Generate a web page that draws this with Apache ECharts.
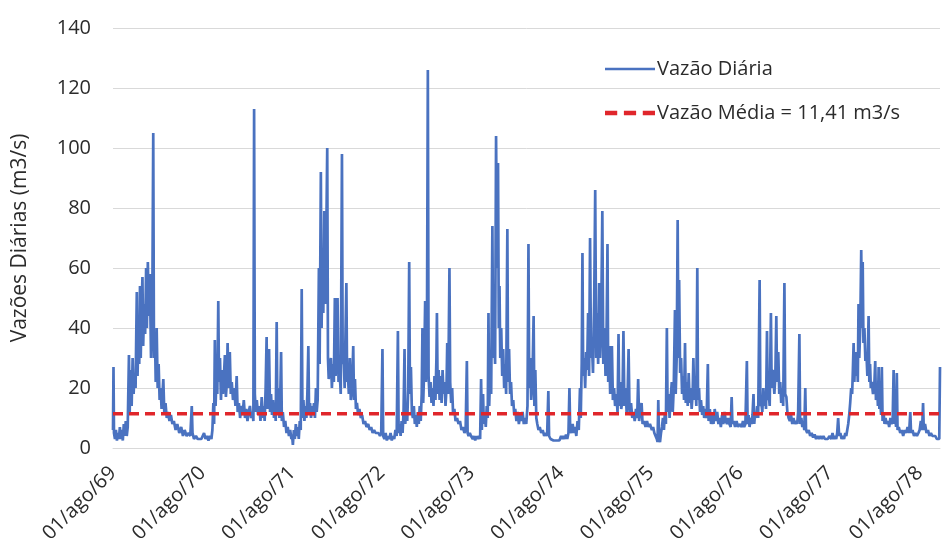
<!DOCTYPE html>
<html>
<head>
<meta charset="utf-8">
<title>Vazões Diárias</title>
<script src="https://cdn.jsdelivr.net/npm/echarts@6/dist/echarts.min.js"></script>
<style>
  html, body { margin: 0; padding: 0; background: #fff; }
  #chart { width: 942px; height: 549px; }
</style>
</head>
<body>
<div id="chart"></div>
<script>
// Vazões diárias por ano hidrológico: pares [dia contado a partir de 01/ago, vazão em m3/s]
const ano1969 = [[0,6],[2,27],[4,5],[8,3],[12,6],[16,2.5],[20,5],[24,3],[28,7],[32,3],[36,6],[40,2.5],[44,8],[48,4],[52,9],[56,4],[60,7],[65,31],[68,12],[72,26],[76,14],[80,30],[84,18],[88,25],[92,20],[97,52],[100,24],[104,40],[107,28],[110,54],[113,30],[116,45],[120,57],[123,34],[127,48],[131,38],[135,60],[138,40],[142,62],[146,44],[150,58],[155,30],[160,45],[164,105],[167,30],[171,38],[174,22],[178,40],[182,20],[186,28],[190,16],[194,20],[198,13],[201,17],[205,23],[209,12],[214,15],[219,10],[224,12],[230,9],[236,11],[242,8],[248,9],[255,6],[262,8],[270,5],[278,7],[285,4],[292,6],[300,4],[308,5],[315,4],[321,14],[324,5],[330,3],[338,4],[345,3],[352,3.5],[360,3]];
const ano1970 = [[0,3],[6,5],[12,3],[18,4],[24,2.5],[30,4],[36,3],[40,6],[44,15],[47,8],[50,36],[53,14],[57,25],[60,18],[64,49],[67,22],[71,30],[75,16],[79,26],[83,18],[87,24],[91,31],[95,17],[99,22],[102,35],[106,20],[111,32],[115,18],[119,22],[124,16],[129,20],[134,14],[139,24],[143,12],[148,15],[153,10],[158,14],[163,11],[168,16],[173,10],[178,13],[183,9],[188,12],[193,14],[198,10],[203,12],[207,9],[210,113],[213,18],[217,12],[221,16],[226,11],[231,14],[236,9],[241,17],[245,10],[249,14],[253,9],[257,20],[261,37],[264,13],[268,22],[271,33],[275,12],[279,18],[283,11],[287,16],[291,10],[295,15],[298,9],[302,42],[305,12],[309,20],[313,10],[316,15],[320,32],[323,9],[327,12],[332,7],[337,9],[342,5],[347,7],[352,4],[357,6],[362,3]];
const ano1971 = [[0,4],[3,1],[7,6],[11,3],[15,8],[19,4],[23,7],[27,3],[31,9],[35,6],[39,53],[42,10],[46,16],[50,9],[54,14],[58,10],[62,18],[66,34],[69,12],[73,15],[77,10],[81,14],[85,11],[89,15],[93,10],[97,20],[100,12],[104,16],[109,60],[112,28],[117,92],[120,40],[124,66],[127,45],[131,79],[135,48],[139,70],[143,100],[146,30],[149,23],[153,26],[158,30],[162,20],[166,28],[170,22],[174,50],[177,24],[181,30],[185,50],[189,22],[194,25],[198,18],[203,98],[206,28],[210,30],[214,20],[217,36],[221,55],[224,22],[227,25],[231,18],[235,30],[239,16],[244,20],[249,34],[252,16],[256,23],[260,13],[264,15],[269,11],[274,13],[280,10],[285,11],[291,8],[297,9],[303,7],[310,8],[316,6],[322,7],[328,5],[334,6],[340,5],[346,4.5],[352,5],[358,4],[363,5]];
const ano1972 = [[0,5],[2,33],[5,4],[10,3],[15,5],[20,2.5],[25,4],[30,3],[35,5],[40,2.5],[45,4],[50,3],[55,6],[60,4],[65,39],[68,5],[72,8],[76,4],[80,9],[84,5],[88,12],[92,33],[95,8],[99,14],[103,9],[107,20],[111,62],[114,18],[118,27],[122,12],[126,10],[130,14],[134,8],[138,11],[142,7],[146,12],[150,8],[154,14],[158,9],[162,18],[165,40],[168,15],[172,26],[176,49],[179,22],[183,30],[187,126],[190,24],[194,17],[198,22],[202,15],[206,20],[210,14],[214,24],[218,16],[222,30],[224,45],[227,18],[231,26],[235,16],[239,24],[243,15],[247,26],[251,18],[255,22],[259,14],[263,20],[266,35],[270,18],[275,60],[278,22],[282,15],[286,20],[290,11],[295,13],[300,9],[306,10],[312,8],[318,9],[324,6],[330,7],[336,5],[341,6],[346,29],[349,5],[353,4],[358,5],[363,4]];
const ano1973 = [[0,4],[5,3],[10,4],[15,2.5],[20,4],[25,3],[30,4],[35,3],[39,23],[42,6],[47,18],[50,8],[54,12],[58,7],[62,14],[66,10],[69,45],[72,14],[76,26],[80,18],[85,74],[88,30],[92,40],[96,28],[100,104],[104,60],[108,95],[111,40],[114,54],[117,30],[121,40],[125,24],[129,33],[133,20],[137,28],[141,18],[146,73],[149,22],[153,33],[157,18],[161,22],[165,14],[170,16],[174,11],[178,13],[183,9],[188,12],[193,8],[198,11],[203,9],[208,12],[213,8],[218,10],[223,8],[228,14],[232,68],[235,20],[239,30],[243,16],[248,22],[253,44],[256,14],[260,26],[264,10],[268,8],[273,6],[278,7],[284,5],[290,6],[296,4],[302,5],[308,4],[313,19],[316,4],[322,3],[328,3.5],[334,2.5],[340,3],[346,2.5],[352,3],[358,2.5],[363,3]];
const ano1974 = [[0,4],[5,3],[10,4],[15,3],[20,4.5],[25,3],[30,5],[34,20],[37,6],[42,5],[47,8],[52,5],[57,7],[62,4],[67,9],[72,6],[77,20],[80,10],[84,28],[87,65],[90,24],[94,30],[98,20],[102,32],[106,26],[110,45],[114,24],[118,70],[122,30],[126,34],[130,25],[135,50],[139,86],[143,30],[147,45],[151,28],[155,55],[159,30],[163,40],[168,79],[172,28],[177,40],[181,24],[185,36],[189,68],[192,22],[196,34],[200,18],[204,24],[207,34],[211,16],[216,20],[220,14],[225,18],[230,12],[234,38],[237,14],[241,22],[245,13],[250,16],[254,39],[258,14],[263,20],[267,12],[271,18],[275,33],[279,11],[285,15],[290,10],[295,12],[300,9],[305,13],[310,10],[314,23],[318,9],[322,12],[328,15],[332,8],[338,9],[344,7],[350,9],[356,7],[362,8]];
const ano1975 = [[0,8],[5,6],[10,7],[15,5],[20,4],[25,3],[28,2],[31,16],[34,3],[38,2],[42,5],[46,7],[50,10],[54,6],[58,12],[62,8],[66,40],[69,12],[73,18],[77,10],[81,16],[86,22],[90,12],[94,20],[99,46],[102,18],[106,30],[110,76],[113,30],[116,56],[120,25],[124,30],[128,18],[132,24],[136,16],[140,35],[143,15],[147,22],[151,14],[155,25],[159,15],[163,20],[167,13],[171,18],[174,30],[178,16],[182,22],[186,14],[190,60],[193,16],[197,20],[201,12],[205,16],[210,11],[214,14],[218,10],[223,13],[228,10],[233,28],[236,9],[241,13],[246,8],[251,11],[256,8],[261,13],[266,9],[271,12],[276,8],[281,10],[286,7],[291,11],[296,8],[301,12],[306,9],[311,8],[316,10],[321,8],[326,7],[330,17],[333,8],[338,9],[344,7],[350,9],[356,7],[362,8]];
const ano1976 = [[0,8],[5,7],[10,9],[15,7],[20,8],[26,29],[29,8],[33,11],[37,7],[41,10],[45,8],[49,11],[53,18],[56,8],[60,12],[64,10],[68,14],[72,10],[78,56],[81,14],[85,15],[89,12],[93,20],[97,14],[101,18],[104,13],[108,39],[111,16],[115,18],[119,14],[124,45],[127,20],[131,26],[134,24],[138,18],[142,24],[146,44],[149,22],[154,32],[158,18],[162,22],[166,15],[170,20],[174,14],[179,55],[182,18],[187,17],[191,12],[196,10],[201,9],[206,11],[211,8],[216,10],[221,8],[226,9],[231,8],[235,12],[240,38],[243,8],[248,10],[252,7],[256,9],[260,6],[264,20],[267,6],[272,5],[278,6],[284,4],[290,5],[296,3.5],[302,4.5],[308,3],[314,4],[320,3],[326,4],[332,3],[338,4],[344,3],[350,3.5],[356,3],[362,4]];
const ano1977 = [[0,4],[5,3],[10,5],[15,3],[20,4],[25,3],[29,5],[33,10],[37,4],[42,5],[47,3],[52,4],[57,3],[62,5],[66,4],[70,6],[74,8],[78,11],[82,15],[86,20],[90,18],[93,26],[96,35],[99,22],[103,32],[106,24],[110,30],[113,22],[116,48],[119,30],[123,40],[127,66],[130,40],[133,62],[136,35],[140,40],[144,29],[148,32],[152,24],[157,44],[160,22],[163,28],[166,20],[170,22],[175,18],[180,20],[184,29],[187,16],[192,20],[195,14],[198,27],[201,13],[205,15],[208,11],[211,27],[214,9],[218,12],[222,8],[226,10],[231,8],[236,9],[241,7],[246,10],[250,8],[255,9],[259,26],[262,8],[266,10],[269,7],[272,25],[275,6],[280,7],[286,5],[292,6],[298,4],[304,6],[310,5],[316,7],[322,5],[327,12],[330,5],[336,6],[342,4],[348,5],[354,4],[360,5]];
const ano1978 = [[0,6],[5,9],[10,6],[14,15],[17,6],[22,8],[28,5],[34,6],[40,4],[46,5],[52,4],[58,3.5],[64,4],[70,3],[76,3.5],[80,3],[83,27]];

const anosHidrologicos = [1969, 1970, 1971, 1972, 1973, 1974, 1975, 1976, 1977, 1978];
const seriesPorAno = [ano1969, ano1970, ano1971, ano1972, ano1973, ano1974, ano1975, ano1976, ano1977, ano1978];
const vazaoMedia = 11.41;
const rotuloTicks = ['01/ago/69', '01/ago/70', '01/ago/71', '01/ago/72', '01/ago/73', '01/ago/74', '01/ago/75', '01/ago/76', '01/ago/77', '01/ago/78'];

// eixo x em dias corridos desde 01/ago/1969
const DIA = 86400000;
const ANO = 365.25;
const t0 = Date.UTC(anosHidrologicos[0], 7, 1);
const inicioAnoDias = anosHidrologicos.map(a => Math.round((Date.UTC(a, 7, 1) - t0) / DIA));

const vazaoDiaria = [];
seriesPorAno.forEach((pares, i) => {
  pares.forEach(([d, v]) => vazaoDiaria.push([inicioAnoDias[i] + d, v]));
});
const xMax = vazaoDiaria[vazaoDiaria.length - 1][0];

const fonte = 'Open Sans';
const corTexto = '#2b2b2b';
const azul = '#4a72c0';
const vermelho = '#e0262b';

const chart = echarts.init(document.getElementById('chart'), null, { renderer: 'canvas' });
chart.setOption({
  animation: false,
  backgroundColor: '#ffffff',
  textStyle: { fontFamily: fonte },
  grid: { left: 113, right: 2, top: 28, bottom: 101, containLabel: false, outerBoundsMode: 'none' },
  legend: {
    orient: 'vertical',
    left: 600,
    top: 54,
    itemWidth: 50,
    itemHeight: 20,
    itemGap: 24,
    textStyle: { fontFamily: fonte, fontSize: 20, color: corTexto, padding: [0, 0, 0, -3] },
    data: [
      { name: 'Vazão Diária', icon: 'path://M0,8.8 L50,8.8 L50,11.2 L0,11.2 Z', itemStyle: { color: azul } },
      { name: 'Vazão Média = 11,41 m3/s', icon: 'path://M0,8 L11,8 L11,12 L0,12 Z M17,8 L28,8 L28,12 L17,12 Z M34,8 L45,8 L45,12 L34,12 Z', itemStyle: { color: vermelho } }
    ]
  },
  xAxis: {
    type: 'value',
    min: 0,
    max: xMax,
    interval: ANO,
    axisLine: { show: true, lineStyle: { color: '#d9d9d9', width: 1 } },
    axisTick: { show: false },
    splitLine: { show: false },
    axisLabel: {
      rotate: 45,
      margin: 22,
      showMaxLabel: false,
      fontFamily: fonte,
      fontSize: 20,
      color: corTexto,
      formatter: function (v) {
        const i = Math.round(v / ANO);
        return rotuloTicks[i] || '';
      }
    }
  },
  yAxis: {
    type: 'value',
    min: 0,
    max: 140,
    interval: 20,
    name: 'Vazões Diárias (m3/s)',
    nameLocation: 'middle',
    nameRotate: 90,
    nameGap: 82,
    nameTextStyle: { fontFamily: fonte, fontSize: 21, color: corTexto },
    axisLine: { show: false },
    axisTick: { show: false },
    splitLine: { lineStyle: { color: '#d9d9d9', width: 1 } },
    axisLabel: { margin: 22, fontFamily: fonte, fontSize: 20, color: corTexto }
  },
  series: [
    {
      name: 'Vazão Diária',
      type: 'line',
      data: vazaoDiaria,
      symbol: 'none',
      lineStyle: { color: azul, width: 2.7 },
      itemStyle: { color: azul },
      z: 2
    },
    {
      name: 'Vazão Média = 11,41 m3/s',
      type: 'line',
      data: [[0, vazaoMedia], [xMax, vazaoMedia]],
      symbol: 'none',
      lineStyle: { color: vermelho, width: 3.5, type: [10, 6] },
      itemStyle: { color: vermelho },
      z: 3
    }
  ]
});
</script>
</body>
</html>
